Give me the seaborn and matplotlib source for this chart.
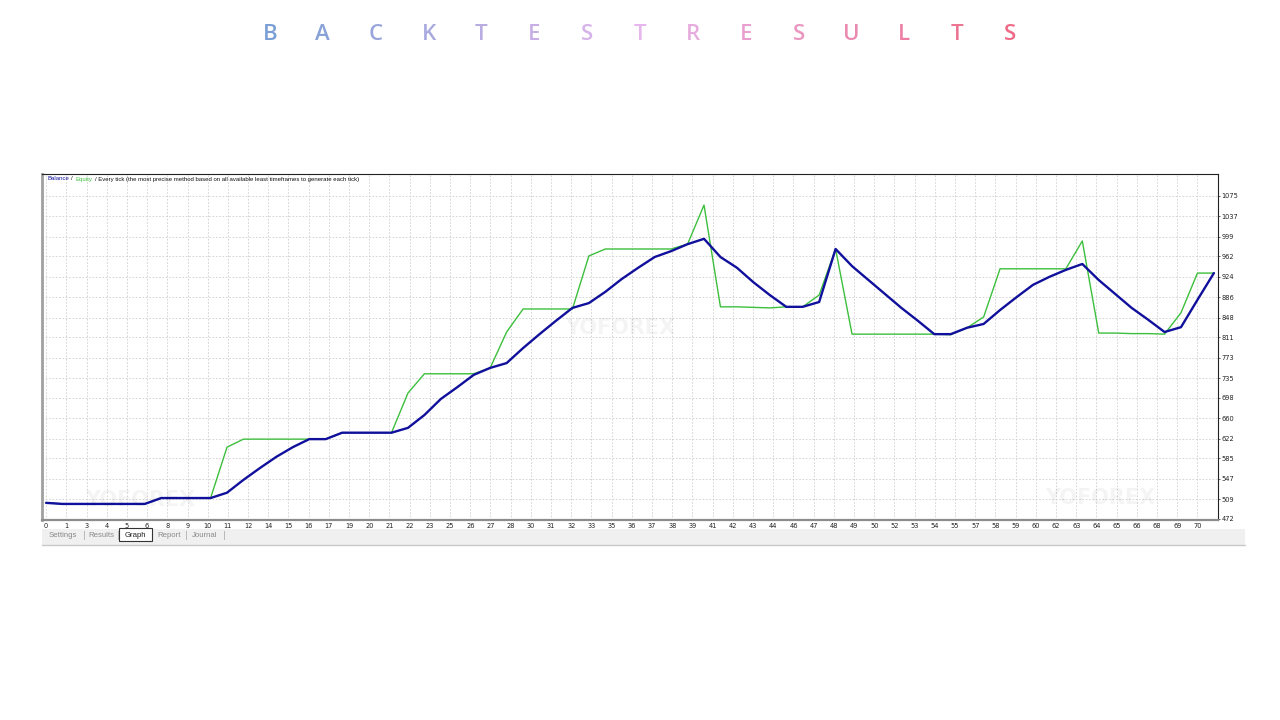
import numpy as np
import pandas as pd
import matplotlib
matplotlib.use("Agg")
import matplotlib.pyplot as plt
from matplotlib.colors import LinearSegmentedColormap
from matplotlib.patches import Rectangle
import seaborn as sns

# valeurs (une valeur par trade)
trades = list(range(72))
balance = [502, 500, 500, 500, 500, 500, 500, 511, 511, 511, 511, 521, 545, 567,
           588, 606, 621, 621, 633, 633, 633, 633, 642, 666, 696, 718, 741, 754,
           763, 791, 817, 842, 866, 875, 896, 920, 941, 961, 972, 985, 995, 961,
           941, 914, 890, 868, 868, 877, 976, 944, 918, 892, 866, 842, 817, 817,
           829, 836, 862, 886, 909, 924, 937, 948, 918, 892, 866, 844, 821, 830,
           881, 931]
equity = [502, 500, 500, 500, 500, 500, 500, 511, 511, 511, 511, 606, 621, 621,
          621, 621, 621, 621, 633, 633, 633, 633, 707, 743, 743, 743, 743, 754,
          821, 864, 864, 864, 864, 963, 976, 976, 976, 976, 976, 985, 1058, 868,
          868, 867, 866, 868, 868, 890, 976, 817, 817, 817, 817, 817, 817, 816,
          829, 849, 939, 939, 939, 939, 939, 991, 819, 819, 818, 818, 817, 857,
          931, 931]

y_ticks = [472, 509, 547, 585, 622, 660, 698, 735, 773, 811, 848, 886, 924, 962,
           999, 1037, 1075]
x_tick_labels = ["0", "1", "3", "4", "5", "6", "8", "9", "10", "11", "12", "14",
                 "15", "16", "17", "19", "20", "21", "22", "23", "25", "26", "27",
                 "28", "30", "31", "32", "33", "35", "36", "37", "38", "39", "41",
                 "42", "43", "44", "46", "47", "48", "49", "50", "52", "53", "54",
                 "55", "57", "58", "59", "60", "62", "63", "64", "65", "66", "68",
                 "69", "70"]
tabs = ["Settings", "Results", "Graph", "Report", "Journal"]
title = "BACKTESTRESULTS"

BLUE = "#10109c"
GREEN = "#3cbf3c"

sns.set_style("white")
plt.rcParams["font.family"] = ["DejaVu Sans"]

W, H = 1280, 720
fig = plt.figure(figsize=(W / 100, H / 100), dpi=100)
fig.patch.set_facecolor("white")

def fx(px):
    return px / W

def fy(py):
    return 1 - py / H

ax = fig.add_axes([fx(42), fy(520), fx(1218 - 42), (520 - 174) / H])

df = pd.DataFrame({"trade": trades, "balance": balance, "equity": equity})
sns.lineplot(data=df, x="trade", y="equity", color=GREEN, lw=1.0, ax=ax)
sns.lineplot(data=df, x="trade", y="balance", color=BLUE, lw=1.7, ax=ax)

ax.set_xlim(-0.25, 71.25)
ax.set_ylim(470, 1116)
xt = [k * 70 / 57 for k in range(len(x_tick_labels))]
ax.set_xticks(xt)
ax.set_xticklabels(x_tick_labels, fontsize=4.8)
ax.set_yticks(y_ticks)
ax.set_yticklabels([str(v) for v in y_ticks], fontsize=4.8)
ax.yaxis.tick_right()
ax.tick_params(axis="both", length=1.5, width=0.5, pad=1.0, colors="#222222")
ax.set_xlabel("")
ax.set_ylabel("")
ax.grid(True, color="#cfcfcf", lw=0.6, linestyle=(0, (2, 2)))
for s in ["top", "right"]:
    ax.spines[s].set_color("#222222")
    ax.spines[s].set_linewidth(0.8)
ax.spines["left"].set_color("#a0a0a0")
ax.spines["left"].set_linewidth(2.0)
ax.spines["bottom"].set_color("#8c8c8c")
ax.spines["bottom"].set_linewidth(1.6)

# filigranes
for (px, py) in [(620, 328), (140, 500), (1100, 498)]:
    fig.text(fx(px), fy(py), "YOFOREX", fontsize=15, fontweight="bold",
             color="#000000", alpha=0.045, ha="center", va="center")

# entête coloré dans le graphique
fig.canvas.draw()
renderer = fig.canvas.get_renderer()
pieces = [("Balance", BLUE), ("/", "#111111"), ("Equity", GREEN),
          ("/ Every tick (the most precise method based on all available least "
           "timeframes to generate each tick)", "#111111")]
xpos = 47
for txt, col in pieces:
    t = fig.text(fx(xpos), fy(179), txt, fontsize=4.3, color=col, va="center",
                 family=["Liberation Sans", "DejaVu Sans"])
    bb = t.get_window_extent(renderer)
    xpos += bb.width + 2.5

# barre d'onglets
fig.patches.append(Rectangle((fx(42), fy(545)), fx(1245 - 42), (545 - 529) / H,
                             transform=fig.transFigure, facecolor="#f0f0f0",
                             edgecolor="none", zorder=0))
fig.lines.append(plt.Line2D([fx(42), fx(1245)], [fy(545), fy(545)],
                            transform=fig.transFigure, color="#c8c8c8", lw=1))
fig.patches.append(Rectangle((fx(119), fy(541)), fx(152 - 119), (541 - 528) / H,
                             transform=fig.transFigure, facecolor="white",
                             edgecolor="#333333", lw=0.8, zorder=1))
tab_x = [63, 101, 135, 169, 205]
for name, px in zip(tabs, tab_x):
    col = "#222222" if name == "Graph" else "#8a8a8a"
    fig.text(fx(px), fy(535.5), name, fontsize=5.6, color=col,
             ha="center", va="center", zorder=3,
             family=["Liberation Sans", "DejaVu Sans"])
for px in [84, 118, 186, 224]:
    fig.text(fx(px), fy(535.5), "|", fontsize=5.6, color="#9a9a9a",
             ha="center", va="center")

# titre en lettres espacées avec dégradé
cmap = LinearSegmentedColormap.from_list("t", ["#7a9fd4", "#e6b6ec", "#ee6a86"])
for i, ch in enumerate(title):
    px = 270 + i * (1010 - 270) / (len(title) - 1)
    fig.text(fx(px), fy(35), ch, fontsize=16, fontweight="semibold",
             family=["Open Sans", "DejaVu Sans"],
             color=cmap(i / (len(title) - 1)), ha="center", va="center")

fig.savefig("out.png", dpi=100, facecolor="white")
